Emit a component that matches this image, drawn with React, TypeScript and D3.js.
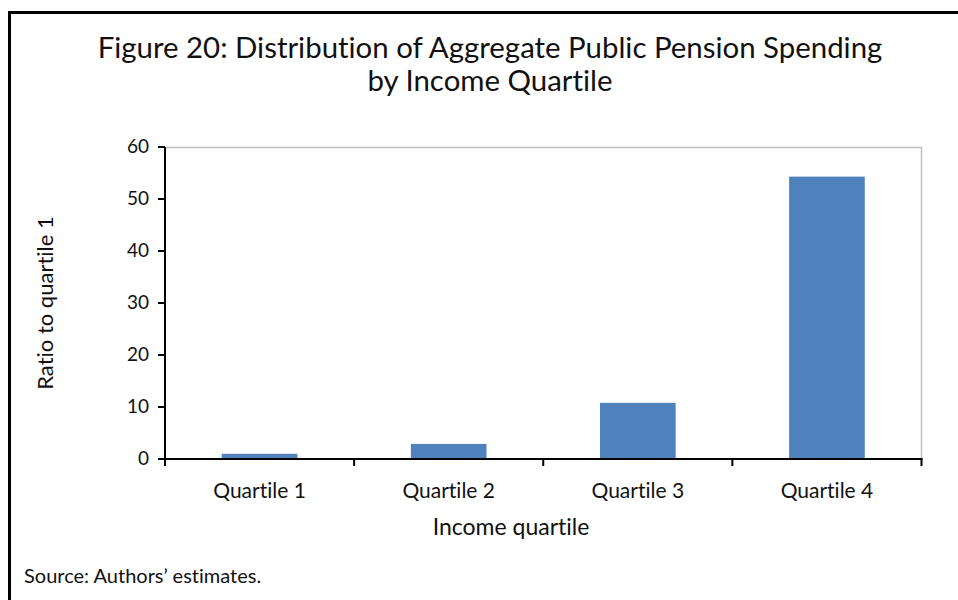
import React from "react";
import * as d3 from "d3";

const categories = ["Quartile 1", "Quartile 2", "Quartile 3", "Quartile 4"];
const values = [1.0, 2.9, 10.8, 54.3];
const yTicks = [0, 10, 20, 30, 40, 50, 60];
const titleLines = ["Figure 20: Distribution of Aggregate Public Pension Spending", "by Income Quartile"];
const xTitle = "Income quartile";
const yTitle = "Ratio to quartile 1";
const source = "Source: Authors\u2019 estimates.";

const W = 958, H = 600;
const left = 165, right = 921.5, top = 147, bottom = 459;
const FONT = "Lato, 'Open Sans', sans-serif";
const txt = { fontFamily: FONT, fill: "#111", style: { fontVariantLigatures: "none" as const } };

export default function App() {
  const x = d3.scaleBand<string>().domain(categories).range([left, right]).paddingInner(0.6).paddingOuter(0.3);
  const band = (right - left) / categories.length;
  const y = d3.scaleLinear().domain([0, 60]).range([bottom, top]);
  return (
    <svg width={W} height={H} style={{ position: "absolute", left: 0, top: 0, background: "#fff" }}>
      <rect x={0} y={0} width={W} height={H} fill="#fff" />
      <path d={`M9.5,${H} V12.5 H${W}`} fill="none" stroke="#000" strokeWidth={3} />
      {titleLines.map((t, i) => (
        <text key={i} x={490} y={58 + i * 33} textAnchor="middle" fontSize={29.4} {...txt}>{t}</text>
      ))}
      <path d={`M${left},${top + 0.5} H${right} V${bottom}`} fill="none" stroke="#bfbfbf" strokeWidth={1.5} />
      {categories.map((c, i) => (
        <rect key={c} x={x(c)} y={y(values[i])} width={x.bandwidth()} height={y(0) - y(values[i])} fill="#4F81BD" />
      ))}
      <line x1={left} x2={left} y1={top} y2={bottom} stroke="#000" strokeWidth={2} />
      <line x1={left} x2={right + 1} y1={bottom} y2={bottom} stroke="#000" strokeWidth={2} />
      {yTicks.map((t) => (
        <g key={t}>
          <line x1={left - 7} x2={left} y1={y(t)} y2={y(t)} stroke="#000" strokeWidth={2} />
          <text x={left - 16} y={y(t) + 6} textAnchor="end" fontSize={19} {...txt}>{t}</text>
        </g>
      ))}
      {d3.range(categories.length + 1).map((i) => (
        <line key={i} x1={left + i * band} x2={left + i * band} y1={bottom} y2={bottom + 7} stroke="#000" strokeWidth={2} />
      ))}
      {categories.map((c) => (
        <text key={c} x={(x(c) as number) + x.bandwidth() / 2} y={498} textAnchor="middle" fontSize={21} {...txt}>{c}</text>
      ))}
      <text x={511} y={535} textAnchor="middle" fontSize={23} {...txt}>{xTitle}</text>
      <text transform={`translate(53,${(top + bottom) / 2}) rotate(-90)`} textAnchor="middle" fontSize={22} {...txt}>{yTitle}</text>
      <text x={24} y={583} fontSize={20} {...txt}>{source}</text>
    </svg>
  );
}
